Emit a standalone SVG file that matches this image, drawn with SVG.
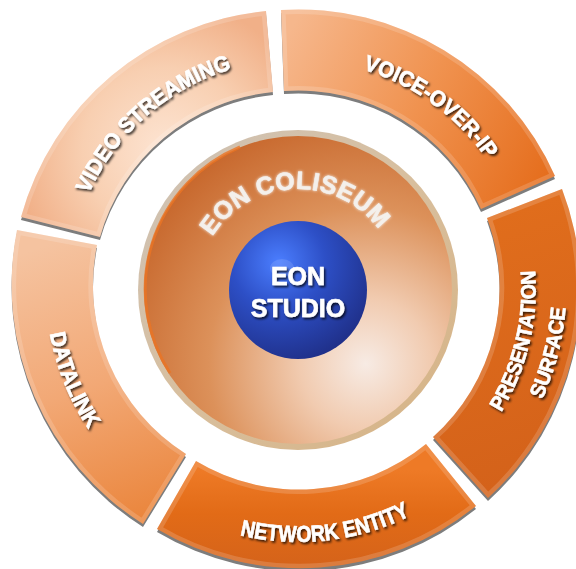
<svg xmlns="http://www.w3.org/2000/svg" xmlns:xlink="http://www.w3.org/1999/xlink" width="576" height="569" viewBox="0 0 576 569">
<style>
.shadow{fill:#7d7d7d}
.bevel{fill:none;stroke:#ffffff;stroke-opacity:0.16;stroke-width:9}
.lbl{font-family:"Liberation Sans","Open Sans",Arial,sans-serif;font-weight:700;fill:#ffffff;stroke:#ffffff;stroke-width:0.6;font-size:22px;filter:url(#ts)}
.core{font-family:"Liberation Sans","Open Sans",Arial,sans-serif;font-weight:700;fill:#ffffff;stroke:#ffffff;stroke-width:0.6;font-size:25px;filter:url(#ts)}
.col{font-family:"Liberation Sans","Open Sans",Arial,sans-serif;font-weight:700;fill:#f4f0ec;stroke:#f4f0ec;stroke-width:0.5;font-size:25px;filter:url(#glow)}
</style>
<defs>
<filter id="ts" x="-10%" y="-20%" width="130%" height="150%">
<feDropShadow dx="1.5" dy="2" stdDeviation="1" flood-color="#000" flood-opacity="0.75"/>
</filter>
<filter id="glow" x="-10%" y="-20%" width="130%" height="150%">
<feGaussianBlur in="SourceGraphic" stdDeviation="1.6" result="b"/>
<feMerge><feMergeNode in="b"/><feMergeNode in="SourceGraphic"/></feMerge>
</filter>
<path id="p-video" d="M 21 217 A 282 282 0 0 1 266 11 L 273 92 A 200 200 0 0 0 100 237 Z"/>
<path id="p-voice" d="M 281 10 A 281 281 0 0 1 555 176 L 481 209 A 200 200 0 0 0 284 91 Z"/>
<path id="p-pres" d="M 562 189 A 281 281 0 0 1 488 498 L 433 437 A 200 200 0 0 0 487 218 Z"/>
<path id="p-net" d="M 476 506 A 280 280 0 0 1 157 529 L 196 461 A 200 200 0 0 0 426 444 Z"/>
<path id="p-data" d="M 143 524 A 283 283 0 0 1 17 230 L 97 245 A 200 200 0 0 0 186 454 Z"/>
<clipPath id="c-video"><use xlink:href="#p-video"/></clipPath>
<clipPath id="c-voice"><use xlink:href="#p-voice"/></clipPath>
<clipPath id="c-pres"><use xlink:href="#p-pres"/></clipPath>
<clipPath id="c-net"><use xlink:href="#p-net"/></clipPath>
<clipPath id="c-data"><use xlink:href="#p-data"/></clipPath>
<radialGradient id="g-video" gradientUnits="userSpaceOnUse" cx="165" cy="150" r="150">
<stop offset="0" stop-color="#fde4d2"/><stop offset="0.55" stop-color="#f8cfb1"/><stop offset="1" stop-color="#f1b088"/>
</radialGradient>
<linearGradient id="g-voice" gradientUnits="userSpaceOnUse" x1="285" y1="40" x2="550" y2="180">
<stop offset="0" stop-color="#f6b78c"/><stop offset="0.5" stop-color="#f0924f"/><stop offset="1" stop-color="#e56d1c"/>
</linearGradient>
<linearGradient id="g-pres" gradientUnits="userSpaceOnUse" x1="480" y1="220" x2="560" y2="470">
<stop offset="0" stop-color="#e06d1c"/><stop offset="1" stop-color="#d4621a"/>
</linearGradient>
<linearGradient id="g-net" gradientUnits="userSpaceOnUse" x1="300" y1="470" x2="300" y2="566">
<stop offset="0" stop-color="#ee7a26"/><stop offset="0.45" stop-color="#e26b17"/><stop offset="1" stop-color="#d5631a"/>
</linearGradient>
<linearGradient id="g-data" gradientUnits="userSpaceOnUse" x1="60" y1="240" x2="160" y2="520">
<stop offset="0" stop-color="#f5c3a0"/><stop offset="0.5" stop-color="#f2a875"/><stop offset="1" stop-color="#ea843a"/>
</linearGradient>
<linearGradient id="g-rim" x1="0" y1="0" x2="1" y2="1">
<stop offset="0" stop-color="#cdc2b7"/><stop offset="0.5" stop-color="#d8bf9e"/><stop offset="1" stop-color="#d6b283"/>
</linearGradient>
<radialGradient id="g-disc" cx="0.72" cy="0.74" r="0.85">
<stop offset="0" stop-color="#f7ebe4"/><stop offset="0.25" stop-color="#f1cbb0"/><stop offset="0.6" stop-color="#dc915a"/><stop offset="1" stop-color="#c6652a"/>
</radialGradient>
<radialGradient id="g-ball" cx="0.36" cy="0.3" r="0.75">
<stop offset="0" stop-color="#4b7eff"/><stop offset="0.45" stop-color="#2d4fc6"/><stop offset="1" stop-color="#1f2f88"/>
</radialGradient>
<path id="t-video" d="M 68.5 273.8 A 230 230 0 0 1 313.2 59.5"/>
<path id="t-voice" d="M 262.2 62.8 A 229 229 0 0 1 524.2 253.2"/>
<path id="t-pres1" d="M 422.5 491.3 A 238 238 0 0 0 500.7 164.3"/>
<path id="t-pres2" d="M 435.2 519.2 A 268 268 0 0 0 528.2 151.8"/>
<path id="t-net" d="M 140.5 487 A 253 253 0 0 0 496 446.5"/>
<path id="t-data" d="M 66 190.5 A 252 252 0 0 0 199.5 521"/>
<path id="t-col" d="M 199.4 268.1 A 101 101 0 0 1 394.3 259.6"/>
</defs>

<g id="video-streaming">
<use xlink:href="#p-video" class="shadow" transform="translate(0,3)"/>
<use xlink:href="#p-video" fill="url(#g-video)"/>
<use xlink:href="#p-video" class="bevel" clip-path="url(#c-video)"/>
<text class="lbl"><textPath xlink:href="#t-video" startOffset="50%" text-anchor="middle" textLength="196" lengthAdjust="spacingAndGlyphs">VIDEO STREAMING</textPath></text>
</g>
<g id="voice-over-ip">
<use xlink:href="#p-voice" class="shadow" transform="translate(0,3)"/>
<use xlink:href="#p-voice" fill="url(#g-voice)"/>
<use xlink:href="#p-voice" class="bevel" clip-path="url(#c-voice)"/>
<text class="lbl"><textPath xlink:href="#t-voice" startOffset="50%" text-anchor="middle" textLength="156" lengthAdjust="spacingAndGlyphs">VOICE-OVER-IP</textPath></text>
</g>
<g id="presentation-surface">
<use xlink:href="#p-pres" class="shadow" transform="translate(0,3)"/>
<use xlink:href="#p-pres" fill="url(#g-pres)"/>
<use xlink:href="#p-pres" class="bevel" clip-path="url(#c-pres)"/>
<text class="lbl" style="font-size:21px"><textPath xlink:href="#t-pres1" startOffset="50%" text-anchor="middle" textLength="148" lengthAdjust="spacingAndGlyphs">PRESENTATION</textPath></text>
<text class="lbl" style="font-size:21px"><textPath xlink:href="#t-pres2" startOffset="50%" text-anchor="middle" textLength="95" lengthAdjust="spacingAndGlyphs">SURFACE</textPath></text>
</g>
<g id="network-entity">
<use xlink:href="#p-net" class="shadow" transform="translate(0,3)"/>
<use xlink:href="#p-net" fill="url(#g-net)"/>
<use xlink:href="#p-net" class="bevel" clip-path="url(#c-net)"/>
<text class="lbl" style="font-size:23px"><textPath xlink:href="#t-net" startOffset="50%" text-anchor="middle" textLength="175" lengthAdjust="spacingAndGlyphs">NETWORK ENTITY</textPath></text>
</g>
<g id="datalink">
<use xlink:href="#p-data" class="shadow" transform="translate(0,3)"/>
<use xlink:href="#p-data" fill="url(#g-data)"/>
<use xlink:href="#p-data" class="bevel" clip-path="url(#c-data)"/>
<text class="lbl"><textPath xlink:href="#t-data" startOffset="50%" text-anchor="middle" textLength="104" lengthAdjust="spacingAndGlyphs">DATALINK</textPath></text>
</g>

<g id="eon-coliseum">
<circle cx="298" cy="290" r="160" fill="url(#g-rim)"/>
<circle cx="298" cy="290" r="154" fill="url(#g-disc)"/>
<path d="M 170 373 A 154 154 0 0 1 240 147" fill="none" stroke="#ea7424" stroke-width="3" stroke-opacity="0.8"/>
<text class="col"><textPath xlink:href="#t-col" startOffset="50%" text-anchor="middle" textLength="196" lengthAdjust="spacing">EON COLISEUM</textPath></text>
</g>

<g id="eon-studio">
<circle cx="298" cy="290" r="69" fill="url(#g-ball)"/>
<ellipse cx="282" cy="268" rx="12" ry="9" fill="#ffffff" fill-opacity="0.12"/>
<text class="core" x="298" y="285" text-anchor="middle">EON</text>
<text class="core" x="298" y="317" text-anchor="middle">STUDIO</text>
</g>

<g id="connectors"></g>
</svg>
